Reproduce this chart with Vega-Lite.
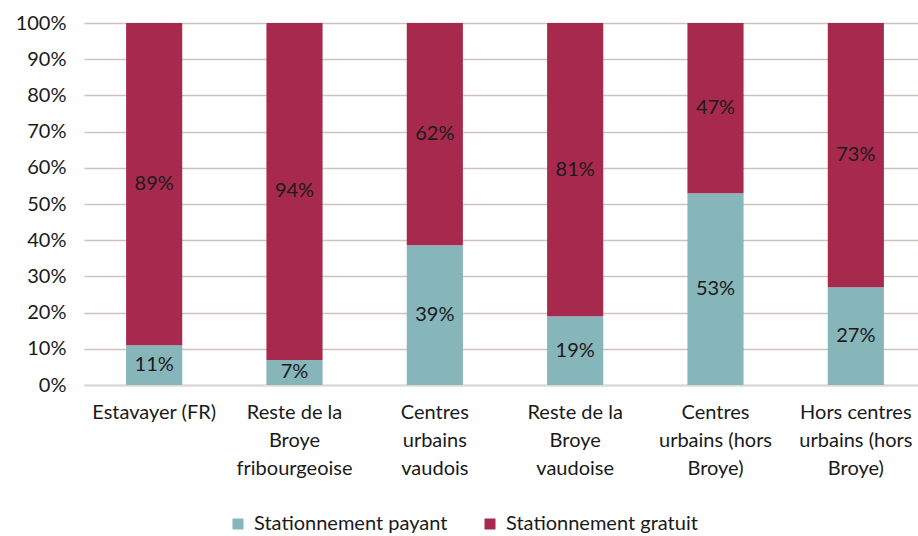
{
  "$schema": "https://vega.github.io/schema/vega-lite/v6.json",
  "width": 842,
  "height": 362,
  "autosize": "none",
  "padding": {"left": 84, "top": 23, "right": 0, "bottom": 151},
  "background": "white",
  "config": {
    "font": "Lato",
    "view": {"stroke": null},
    "axisY": {
      "title": null,
      "format": ".0%",
      "values": [0, 0.1, 0.2, 0.3, 0.4, 0.5, 0.6, 0.7, 0.8, 0.9, 1],
      "labelOverlap": false,
      "labelFont": "Lato",
      "labelFontSize": 20,
      "labelColor": "#1a1a1a",
      "labelPadding": 18,
      "ticks": false,
      "domain": false,
      "grid": true,
      "gridColor": "#cfc2bd",
      "gridWidth": 1.5
    }
  },
  "data": {
    "values": [
      {"region": "Estavayer (FR)", "type": "Stationnement payant", "value": 11, "label": "11%", "ord": 1},
      {"region": "Estavayer (FR)", "type": "Stationnement gratuit", "value": 89, "label": "89%", "ord": 2},
      {"region": "Reste de la|Broye|fribourgeoise", "type": "Stationnement payant", "value": 7, "label": "7%", "ord": 1},
      {"region": "Reste de la|Broye|fribourgeoise", "type": "Stationnement gratuit", "value": 94, "label": "94%", "ord": 2},
      {"region": "Centres|urbains|vaudois", "type": "Stationnement payant", "value": 39, "label": "39%", "ord": 1},
      {"region": "Centres|urbains|vaudois", "type": "Stationnement gratuit", "value": 62, "label": "62%", "ord": 2},
      {"region": "Reste de la|Broye|vaudoise", "type": "Stationnement payant", "value": 19, "label": "19%", "ord": 1},
      {"region": "Reste de la|Broye|vaudoise", "type": "Stationnement gratuit", "value": 81, "label": "81%", "ord": 2},
      {"region": "Centres|urbains (hors|Broye)", "type": "Stationnement payant", "value": 53, "label": "53%", "ord": 1},
      {"region": "Centres|urbains (hors|Broye)", "type": "Stationnement gratuit", "value": 47, "label": "47%", "ord": 2},
      {"region": "Hors centres|urbains (hors|Broye)", "type": "Stationnement payant", "value": 27, "label": "27%", "ord": 1},
      {"region": "Hors centres|urbains (hors|Broye)", "type": "Stationnement gratuit", "value": 73, "label": "73%", "ord": 2}
    ]
  },
  "transform": [
    {"stack": "value", "groupby": ["region"], "sort": [{"field": "ord", "order": "ascending"}], "offset": "normalize", "as": ["y0", "y1"]},
    {"calculate": "(datum.y0 + datum.y1) / 2", "as": "ymid"}
  ],
  "encoding": {
    "x": {
      "field": "region",
      "type": "nominal",
      "sort": null,
      "scale": {"paddingInner": 0.6, "paddingOuter": 0.3},
      "axis": {
        "title": null,
        "labelAngle": 0,
        "labelExpr": "split(datum.value, '|')",
        "labelFont": "Lato",
        "labelFontSize": 20,
        "labelColor": "#1a1a1a",
        "labelLineHeight": 28,
        "labelPadding": 17,
        "labelBaseline": "top",
        "labelLimit": 0,
        "ticks": false,
        "domainColor": "#d9d9d9",
        "domainWidth": 2,
        "grid": false
      }
    }
  },
  "layer": [
    {
      "mark": {"type": "bar"},
      "encoding": {
        "y": {
          "field": "y0",
          "type": "quantitative",
          "scale": {"domain": [0, 1]},
          "title": null
        },
        "y2": {"field": "y1"},
        "color": {
          "field": "type",
          "type": "nominal",
          "sort": ["Stationnement payant", "Stationnement gratuit"],
          "scale": {"domain": ["Stationnement payant", "Stationnement gratuit"], "range": ["#86b5ba", "#a8294e"]},
          "legend": {
            "title": null,
            "orient": "none",
            "legendX": 144,
            "legendY": 491,
            "direction": "horizontal",
            "symbolType": "square",
            "symbolSize": 121,
            "symbolStrokeWidth": 0,
            "labelFont": "Lato",
            "labelFontSize": 20,
            "labelLimit": 0,
            "labelColor": "#1a1a1a",
            "labelOffset": 6,
            "columnPadding": 32
          }
        }
      }
    },
    {
      "mark": {"type": "text", "fontSize": 20, "font": "Lato", "color": "#1a1a1a", "baseline": "middle"},
      "encoding": {
        "y": {"field": "ymid", "type": "quantitative", "title": null},
        "text": {"field": "label", "type": "nominal"}
      }
    }
  ]
}
